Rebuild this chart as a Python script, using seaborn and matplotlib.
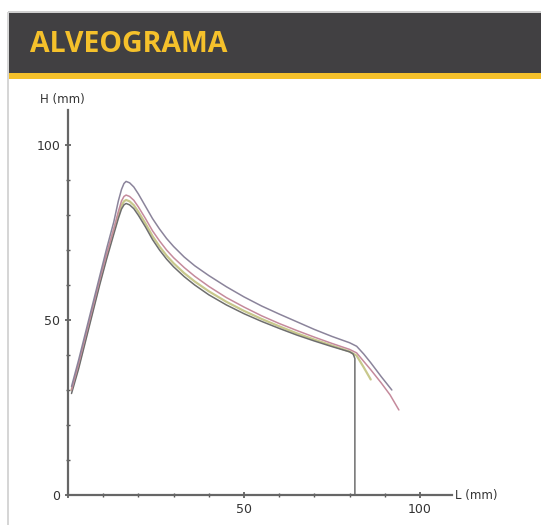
import numpy as np
import matplotlib
matplotlib.use("Agg")
import matplotlib.pyplot as plt
from matplotlib.patches import Rectangle
import pandas as pd
import seaborn as sns

# Alveograma curves, L (mm) vs H (mm)
x_top = [1, 3, 5, 7, 9, 11, 13, 14.3, 15.2, 15.9, 16.5, 17.5, 18.7, 20, 22, 24, 26, 28, 30, 33, 36, 40,
         45, 50, 55, 60, 65, 70, 75, 80, 82, 84, 86, 89, 92]
y_top = [31, 38.5, 46.5, 54.5, 62.5, 70.5, 78, 84, 87.3, 89, 89.6, 89.2, 88, 86, 82.5, 79, 76, 73.3,
         71, 68, 65.5, 62.7, 59.5, 56.6, 54, 51.7, 49.5, 47.3, 45.3, 43.5, 42.5, 40.3, 37.8, 33.8, 30]

x_pink = [1, 3, 5, 7, 9, 11, 13, 14.3, 15.2, 15.9, 16.5, 17.5, 18.7, 20, 22, 24, 26, 28, 30, 33, 36, 40,
          45, 50, 55, 60, 65, 70, 75, 80, 82, 84, 86, 89, 91.5, 94]
y_pink = [30, 37.5, 45.5, 53.5, 61.5, 69, 76, 81, 84, 85.3, 85.7, 85.3, 84.2, 82.3, 79, 75.5, 72.6, 70,
          67.8, 65, 62.5, 59.6, 56.4, 53.7, 51.2, 49, 47, 45.1, 43.3, 41.6, 40.6, 38.2, 35.8, 32, 28.6, 24.3]

x_olive = [1, 3, 5, 7, 9, 11, 13, 14.3, 15.2, 15.9, 16.5, 17.5, 18.7, 20, 22, 24, 26, 28, 30, 33, 36, 40,
           45, 50, 55, 60, 65, 70, 75, 80, 82, 84, 86]
y_olive = [30, 37, 45, 53, 61, 68.5, 75.5, 80, 82.7, 83.9, 84.3, 83.9, 82.8, 80.9, 77.6, 74, 71, 68.4,
           66.2, 63.4, 61, 58.2, 55.2, 52.6, 50.3, 48.2, 46.2, 44.4, 42.7, 41, 39.8, 36.5, 33]

x_dark = [1, 3, 5, 7, 9, 11, 13, 14.3, 15.2, 15.9, 16.5, 17.5, 18.7, 20, 22, 24, 26, 28, 30, 33, 36, 40,
          45, 50, 55, 60, 65, 70, 75, 80, 81, 81.5, 81.5]
y_dark = [29, 36, 44, 52, 60, 67.5, 74.5, 79, 81.7, 82.9, 83.3, 82.9, 81.8, 79.9, 76.6, 73, 70, 67.4,
          65.2, 62.4, 60, 57.2, 54.3, 51.8, 49.6, 47.6, 45.7, 44, 42.4, 40.9, 40.3, 39, 0]

curves = [
    (x_olive, y_olive, "#c8c88c", 1.6),
    (x_dark, y_dark, "#6e6e6e", 1.1),
    (x_pink, y_pink, "#c58a9c", 1.1),
    (x_top, y_top, "#8b849b", 1.1),
]

W, H = 541, 525
fig = plt.figure(figsize=(W / 100, H / 100), dpi=100)
sns.set_style("white")
fig.patch.set_facecolor("white")

# header band
fig.patches.append(Rectangle((8 / W, 1 - 73 / H), 1, 61 / H, transform=fig.transFigure,
                             facecolor="#414042", edgecolor="none", zorder=0))
fig.patches.append(Rectangle((8 / W, 1 - 79 / H), 1, 6 / H, transform=fig.transFigure,
                             facecolor="#f5c12b", edgecolor="none", zorder=0))
fig.patches.append(Rectangle((8 / W, 1 - 13 / H), 1, 1.5 / H, transform=fig.transFigure,
                             facecolor="#cfcfcf", edgecolor="none", zorder=0))
fig.patches.append(Rectangle((7 / W, 0), 2 / W, 1 - 12 / H, transform=fig.transFigure,
                             facecolor="#d6d6d6", edgecolor="none", zorder=0))
fig.text(30 / W, 1 - 45 / H, "ALVEOGRAMA", fontsize=20.5, fontweight="bold",
         family=["Open Sans", "DejaVu Sans"], color="#f5c12b", va="center", ha="left")

ax = fig.add_axes([68 / W, 30 / H, 109 * 3.52 / W, 110 * 3.5 / H])
ax.set_facecolor("none")

for xs, ys, col, lw in curves:
    df = pd.DataFrame({"L": xs, "H": ys})
    sns.lineplot(data=df, x="L", y="H", ax=ax, color=col, linewidth=lw,
                 estimator=None, sort=False)

ax.set_xlim(0, 109)
ax.set_ylim(0, 110)
ax.set_xlabel("")
ax.set_ylabel("")
ax.set_xticks([0, 50, 100])
ax.set_xticklabels(["", "50", "100"])
ax.set_yticks([0, 50, 100])
ax.set_xticks(np.arange(0, 110, 10), minor=True)
ax.set_yticks(np.arange(0, 110, 10), minor=True)
ax.tick_params(axis="both", which="both", bottom=True, left=True)
ax.tick_params(axis="both", which="major", direction="inout", length=5, width=1.2,
               color="#555555", labelsize=9, labelcolor="#333333", pad=3)
ax.tick_params(axis="both", which="minor", direction="inout", length=3, width=1,
               color="#555555")
for s in ["top", "right"]:
    ax.spines[s].set_visible(False)
for s in ["left", "bottom"]:
    ax.spines[s].set_color("#666666")
    ax.spines[s].set_linewidth(1.6)

ax.text(-8, 113, "H (mm)", ha="left", va="center", fontsize=8.5, color="#333333", clip_on=False)
ax.text(110, 0, "L (mm)", ha="left", va="center", fontsize=8.5, color="#333333", clip_on=False)

fig.savefig("out.png", dpi=100)
